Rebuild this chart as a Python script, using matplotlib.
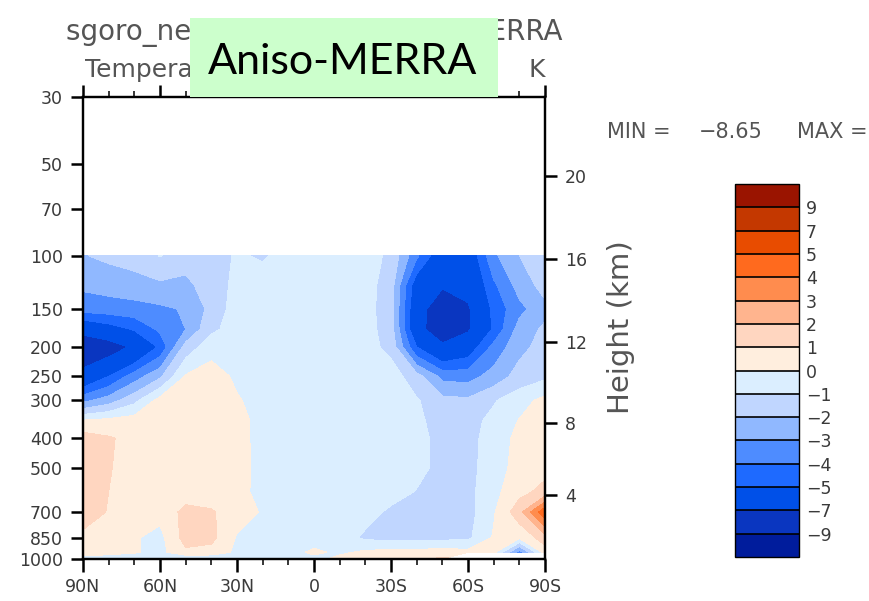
import numpy as np
import matplotlib
matplotlib.use("Agg")
import matplotlib.pyplot as plt
from matplotlib.patches import Rectangle
from matplotlib.ticker import MultipleLocator, NullLocator, FixedLocator

plt.rcParams["font.family"] = ["DejaVu Sans"]

# zonal mean temperature difference (K)
lats = [90, 80, 70, 60, 50, 40, 30, 20, 10, 0, -10, -20, -30, -40, -50, -60, -70, -80, -90]
plevs = [100, 125, 150, 175, 200, 250, 300, 350, 400, 500, 600, 700, 850, 950, 1000]

t100 = [-2.05, -1.8, -1.6, -0.95, -1.5, -1.4, -0.9, -1.1, -0.7, -0.5, -0.5, -0.6, -1.2, -3.8, -6.0, -6.0, -3.2, -2.0, -1.4]
t125 = [-2.8, -2.6, -2.4, -2.2, -2.3, -1.4, -0.8, -0.6, -0.5, -0.5, -0.5, -0.6, -1.5, -5.8, -6.8, -6.5, -4.2, -2.6, -1.6]
t150 = [-3.6, -3.5, -3.4, -3.2, -2.9, -1.7, -0.5, -0.5, -0.5, -0.5, -0.5, -0.6, -1.6, -6.2, -8.2, -7.2, -4.7, -3.3, -2.3]
t175 = [-6.3, -5.6, -4.9, -3.8, -3.0, -1.2, -0.6, -0.5, -0.5, -0.5, -0.5, -0.6, -1.5, -6.3, -8.3, -7.2, -4.8, -2.6, -1.8]
t200 = [-8.6, -7.9, -6.7, -4.8, -1.6, -0.4, -0.3, -0.5, -0.5, -0.5, -0.5, -0.6, -1.3, -5.0, -6.6, -5.8, -3.7, -2.3, -1.6]
t250 = [-6.3, -5.0, -3.5, -2.2, 0.1, 0.5, -0.2, -0.5, -0.5, -0.5, -0.5, -0.5, -0.5, -1.6, -3.3, -3.4, -2.6, -1.6, -1.2]
t300 = [-3.3, -2.5, -1.3, 0.4, 0.5, 0.6, 0.1, -0.4, -0.5, -0.5, -0.5, -0.5, -0.5, -0.9, -1.7, -1.8, -1.1, -0.4, 0.3]
t350 = [0.1, 0.3, 0.5, 0.6, 0.6, 0.6, 0.3, -0.3, -0.5, -0.5, -0.5, -0.5, -0.5, -0.8, -1.4, -1.4, -0.7, 0.05, 0.5]
t400 = [1.5, 1.1, 0.7, 0.6, 0.6, 0.6, 0.3, -0.3, -0.5, -0.5, -0.5, -0.5, -0.5, -0.7, -1.3, -1.3, -0.6, 0.3, 0.7]
t500 = [1.5, 1.05, 0.7, 0.6, 0.6, 0.6, 0.35, -0.3, -0.5, -0.5, -0.5, -0.5, -0.5, -0.7, -1.3, -1.3, -0.5, 0.4, 0.7]
t600 = [1.4, 1.0, 0.6, 0.5, 0.5, 0.5, 0.3, -0.3, -0.5, -0.5, -0.5, -0.5, -0.6, -1.05, -1.3, -1.3, -0.3, 0.7, 1.3]
t700 = [1.4, 0.95, 0.5, 0.3, 1.3, 1.1, 0.5, -0.1, -0.5, -0.5, -0.5, -0.6, -1.2, -1.3, -1.3, -1.4, -0.1, 1.6, 4.8]
t850 = [0.8, 0.4, 0.1, -0.3, 1.4, 1.3, -0.1, -0.5, -0.5, -0.5, -0.5, -1.2, -1.3, -1.3, -1.3, -1.2, 0.1, 0.2, 1.5]
t950 = [0.3, 0.3, 0.1, -0.3, 0.8, 0.6, -0.2, -0.5, -0.4, 0.2, -0.2, 0.2, 0.3, 0.3, 0.5, 0.3, 0.3, -3.5, 0.5]
t1000 = [-0.3, -0.5, -0.7, -1.1, -1.1, -0.9, -0.6, -0.5, -0.5, -0.3, 0.3, 0.5, 0.6, 0.8, 1.2, np.nan, np.nan, np.nan, np.nan]

p_ticks = [30, 50, 70, 100, 150, 200, 250, 300, 400, 500, 700, 850, 1000]
lat_ticks = [90, 60, 30, 0, -30, -60, -90]
lat_labels = ["90N", "60N", "30N", "0", "30S", "60S", "90S"]
heights_km = [4, 8, 12, 16, 20]

levels = [-9, -7, -5, -4, -3, -2, -1, 0, 1, 2, 3, 4, 5, 7, 9]
colors = ["#001c9c", "#0a36c0", "#0050e8", "#1e6aff", "#4e8cff", "#90b8ff",
          "#c0d6ff", "#dbeeff", "#ffeede", "#ffd6c0", "#ffb48e", "#ff8c4e",
          "#ff6a1e", "#e84c00", "#c43800", "#9a1400"]

txt = "#3a3a3a"
gray = "#555555"


def z_to_p(z):
    # standard atmosphere, km -> hPa
    if z <= 11:
        return 1013.25 * (1 - 2.25577e-5 * z * 1000) ** 5.25588
    return 226.32 * np.exp(-(z - 11) / 6.3416)


def lab(v):
    return str(v).replace("-", "\u2212")


temp = np.ma.masked_invalid(np.array([t100, t125, t150, t175, t200, t250, t300, t350,
                                      t400, t500, t600, t700, t850, t950, t1000]))

fig = plt.figure(figsize=(8.69, 6.01), dpi=100)
W, H = 869, 601
ax = fig.add_axes([83 / W, 1 - 559 / H, 462 / W, 462 / H])

cs = ax.contourf(lats, plevs, temp, levels=levels, colors=colors, extend="both")

ax.set_yscale("log")
ax.set_ylim(1000, 30)
ax.set_xlim(90, -90)
ax.yaxis.set_major_locator(FixedLocator(p_ticks))
ax.yaxis.set_minor_locator(NullLocator())
ax.set_yticklabels([str(p) for p in p_ticks])
ax.set_xticks(lat_ticks)
ax.set_xticklabels(lat_labels)
ax.xaxis.set_minor_locator(MultipleLocator(10))
ax.tick_params(axis="x", which="major", direction="out", length=9, width=1.8,
               top=True, labelsize=12.5, labelcolor=txt, pad=5)
ax.tick_params(axis="x", which="minor", direction="out", length=4, width=1.1, top=True)
ax.tick_params(axis="y", which="major", direction="out", length=8.5, width=1.8,
               labelsize=12.5, labelcolor=txt, pad=6)
for s in ax.spines.values():
    s.set_linewidth(1.6)

# height axis on the right
ax2 = ax.twinx()
ax2.set_yscale("log")
ax2.set_ylim(1000, 30)
ax2.yaxis.set_major_locator(FixedLocator([z_to_p(z) for z in heights_km]))
ax2.yaxis.set_minor_locator(NullLocator())
ax2.set_yticklabels([str(z) for z in heights_km])
ax2.tick_params(axis="y", which="major", direction="out", length=8.5, width=1.8,
                labelsize=12.5, labelcolor=txt, pad=6)
for s in ax2.spines.values():
    s.set_linewidth(1.6)

# colour bar
cax = fig.add_axes([735 / W, 1 - 557 / H, 64 / W, 373 / H])
cb = fig.colorbar(cs, cax=cax, extend="both", extendrect=True, extendfrac="auto",
                  drawedges=True, spacing="uniform")
cb.set_ticks(levels)
cb.set_ticklabels([lab(v) for v in levels])
cb.ax.tick_params(length=0, labelsize=12.5, labelcolor=txt, pad=5)
cb.dividers.set_color("black")
cb.dividers.set_linewidth(1.2)
cb.outline.set_linewidth(1.0)

# titles
fig.text(314 / W, 1 - 40 / H, "sgoro_newTS - newTS_ESA - MERRA", ha="center",
         va="baseline", fontsize=20, color=gray)
fig.text(85 / W, 1 - 77 / H, "Temperature", ha="left", va="baseline",
         fontsize=18, color=gray)
fig.text(545 / W, 1 - 77 / H, "K", ha="right", va="baseline", fontsize=18, color=gray)
fig.text(607 / W, 1 - 138 / H, "MIN =", ha="left", va="baseline", fontsize=15, color=gray)
fig.text(699 / W, 1 - 138 / H, "\u22128.65", ha="left", va="baseline", fontsize=15, color=gray)
fig.text(797 / W, 1 - 138 / H, "MAX =", ha="left", va="baseline", fontsize=15, color=gray)
fig.text(621 / W, 1 - 327 / H, "Height (km)", rotation=90, ha="center", va="center",
         fontsize=21, color=gray)

# green label box
fig.patches.append(Rectangle((190 / W, 1 - 97 / H), 308 / W, 79 / H,
                             transform=fig.transFigure, facecolor="#ccffcc",
                             edgecolor="none", zorder=10))
fig.text(343 / W, 1 - 62 / H, "Aniso-MERRA", ha="center", va="center",
         fontsize=31, family="Lato", color="black", zorder=11)

fig.savefig("out.png", dpi=100)
